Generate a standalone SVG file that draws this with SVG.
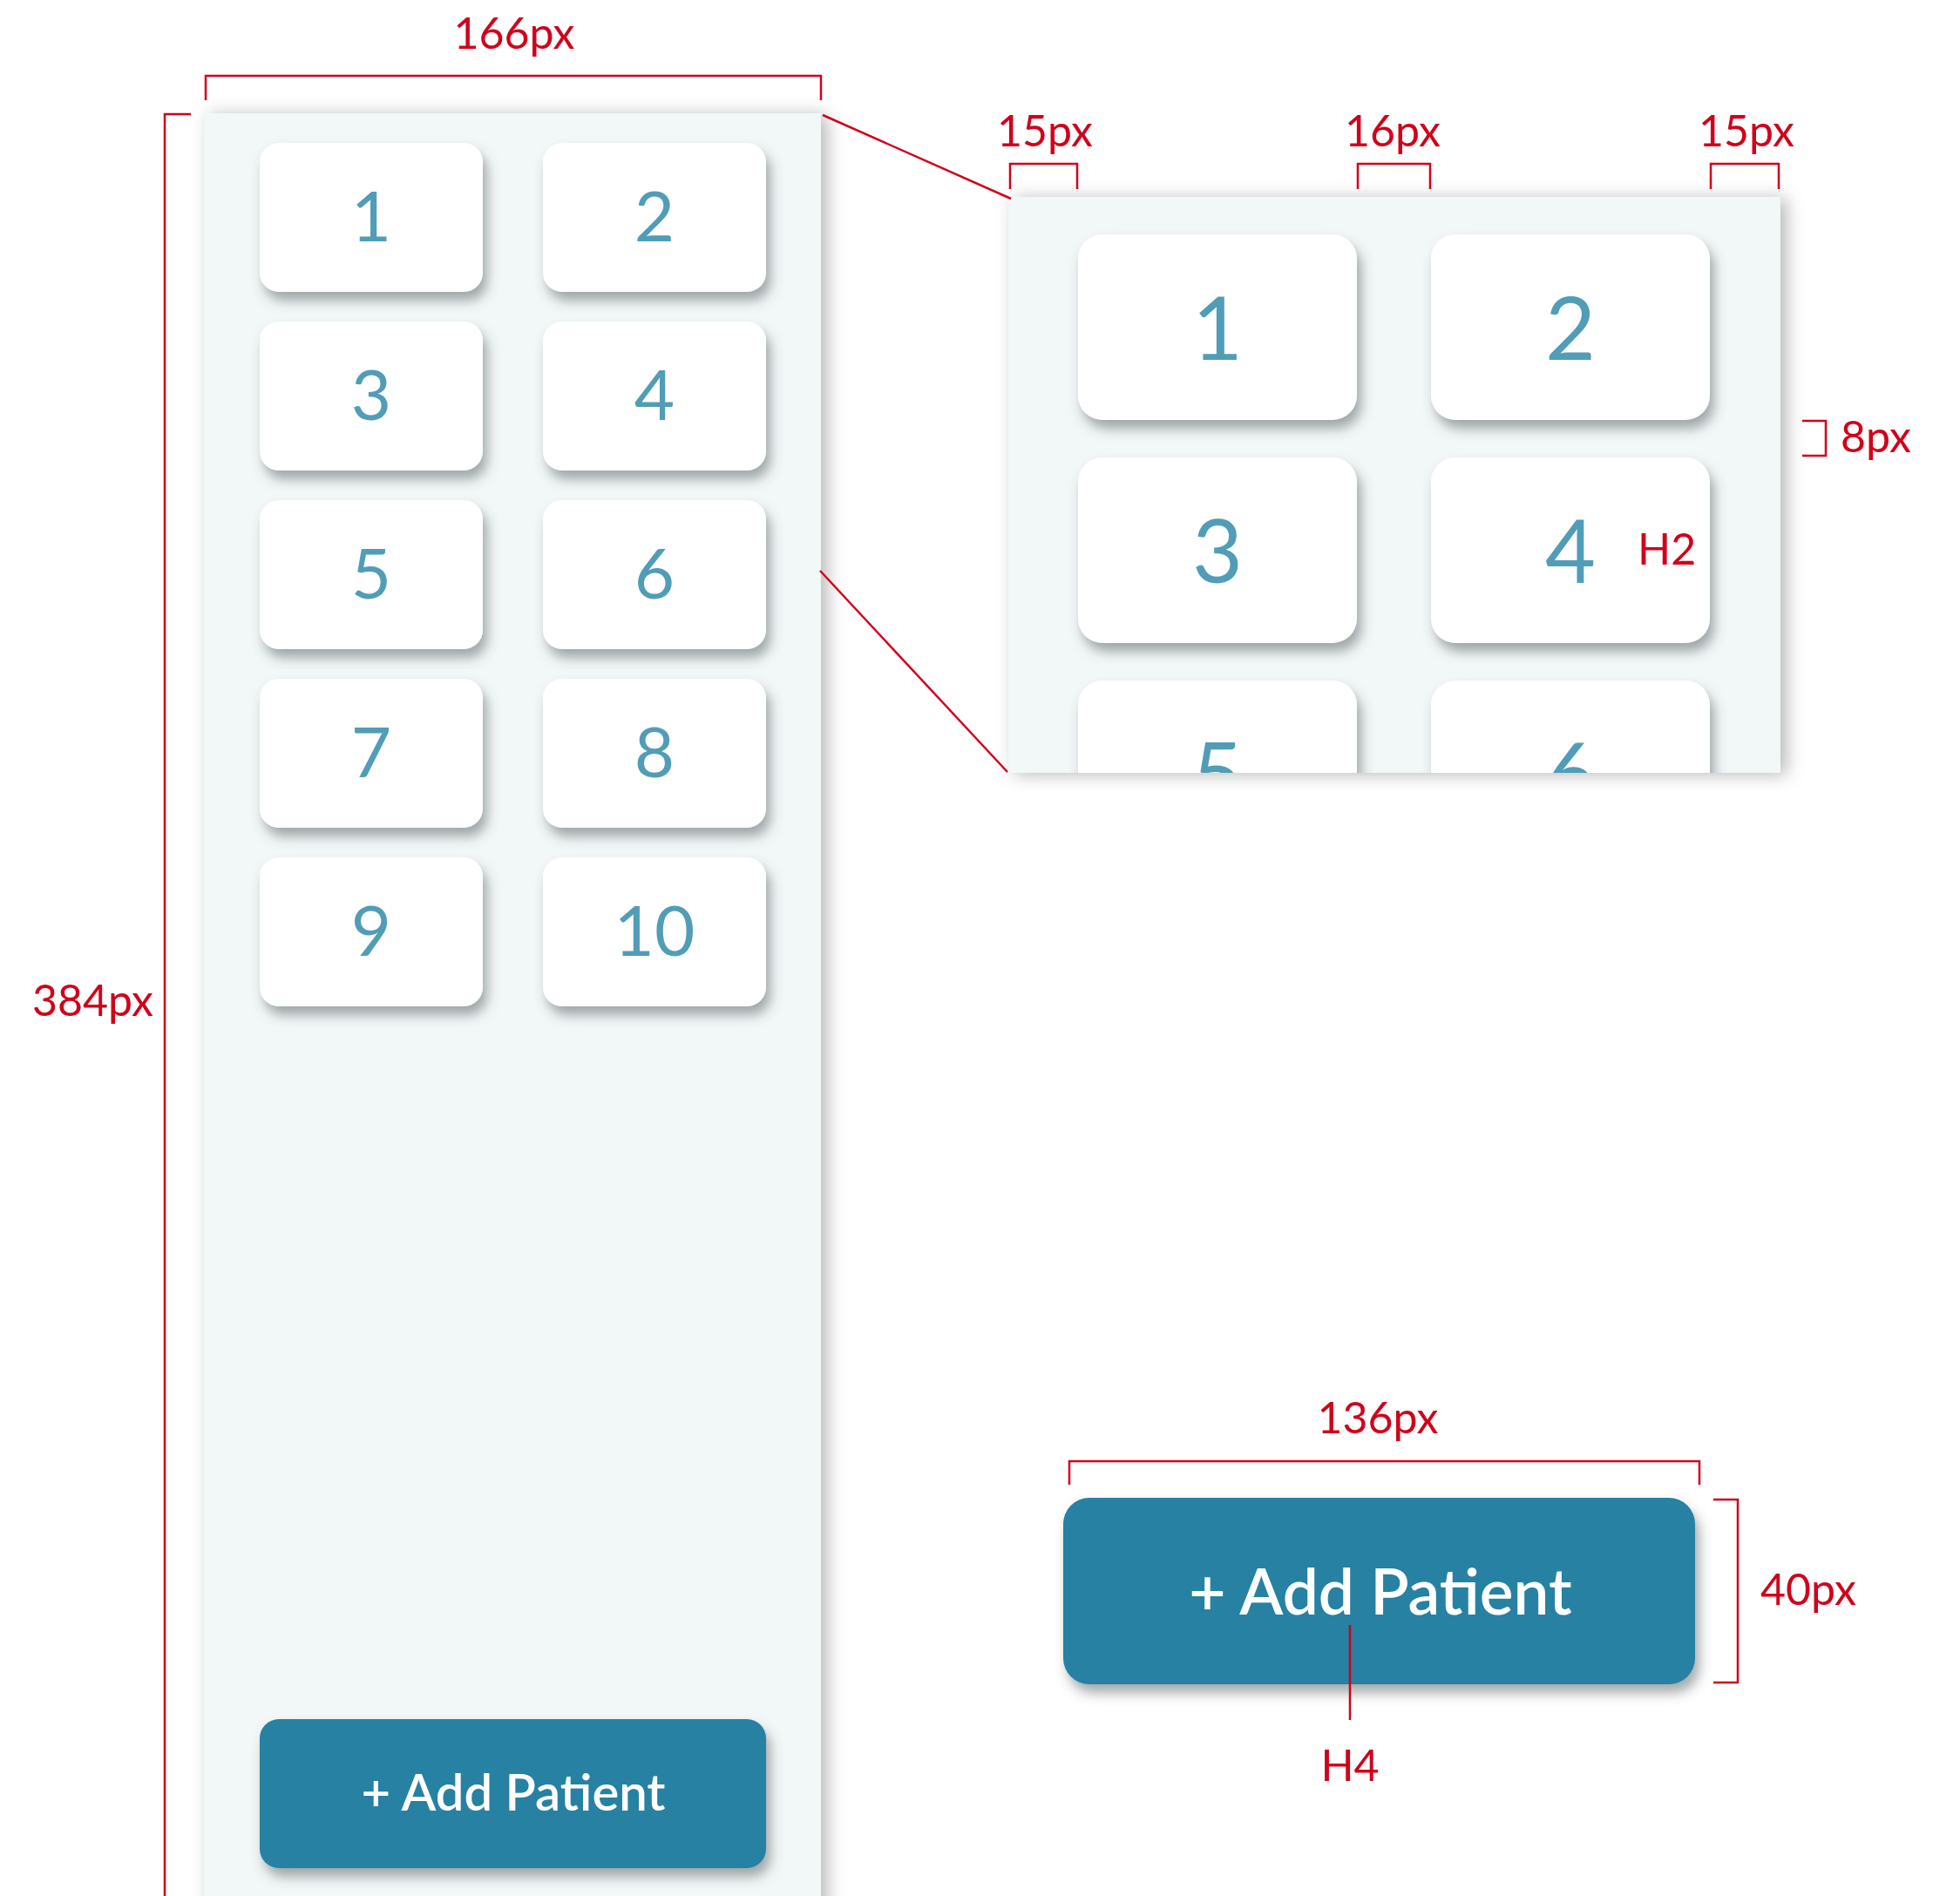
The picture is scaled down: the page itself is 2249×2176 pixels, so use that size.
<svg xmlns="http://www.w3.org/2000/svg" width="2249" height="2176" viewBox="0 0 2249 2176">
<defs>
<style>
.red{fill:#D0021B;font-family:Lato,'Liberation Sans',sans-serif;font-size:50px}
.dim{fill:none;stroke:#D0021B;stroke-width:2.5}
.panel{fill:#F2F7F7}
.tile{fill:#FFFFFF}
.num{fill:#519DB8;font-family:Lato,'Liberation Sans',sans-serif;text-anchor:middle}
.btn{fill:#2581A3}
.btntxt{fill:#FFFFFF;font-family:Lato,'Liberation Sans',sans-serif;font-weight:600;text-anchor:middle}
</style>
<filter id="tsh" x="-20%" y="-20%" width="150%" height="160%">
<feDropShadow dx="5" dy="10" stdDeviation="7" flood-color="#4a5458" flood-opacity="0.5"/>
</filter>
<filter id="psh" x="-10%" y="-10%" width="120%" height="120%">
<feDropShadow dx="7" dy="2" stdDeviation="10" flood-color="#000" flood-opacity="0.28"/>
</filter>
<clipPath id="zclip"><rect x="1157" y="226" width="886" height="661"/></clipPath>
</defs>

<g id="left-panel">
<rect class="panel" x="234" y="130" width="708" height="2100" filter="url(#psh)"/>
</g>

<g id="tiles-small">
<g id="tile-s1"><rect class="tile" x="298" y="164" width="256" height="171" rx="22" filter="url(#tsh)"/><text class="num" x="426" y="277" font-size="80">1</text></g>
<g id="tile-s2"><rect class="tile" x="623" y="164" width="256" height="171" rx="22" filter="url(#tsh)"/><text class="num" x="751" y="277" font-size="80">2</text></g>
<g id="tile-s3"><rect class="tile" x="298" y="369" width="256" height="171" rx="22" filter="url(#tsh)"/><text class="num" x="426" y="482" font-size="80">3</text></g>
<g id="tile-s4"><rect class="tile" x="623" y="369" width="256" height="171" rx="22" filter="url(#tsh)"/><text class="num" x="751" y="482" font-size="80">4</text></g>
<g id="tile-s5"><rect class="tile" x="298" y="574" width="256" height="171" rx="22" filter="url(#tsh)"/><text class="num" x="426" y="687" font-size="80">5</text></g>
<g id="tile-s6"><rect class="tile" x="623" y="574" width="256" height="171" rx="22" filter="url(#tsh)"/><text class="num" x="751" y="687" font-size="80">6</text></g>
<g id="tile-s7"><rect class="tile" x="298" y="779" width="256" height="171" rx="22" filter="url(#tsh)"/><text class="num" x="426" y="892" font-size="80">7</text></g>
<g id="tile-s8"><rect class="tile" x="623" y="779" width="256" height="171" rx="22" filter="url(#tsh)"/><text class="num" x="751" y="892" font-size="80">8</text></g>
<g id="tile-s9"><rect class="tile" x="298" y="984" width="256" height="171" rx="22" filter="url(#tsh)"/><text class="num" x="426" y="1097" font-size="80">9</text></g>
<g id="tile-s10"><rect class="tile" x="623" y="984" width="256" height="171" rx="22" filter="url(#tsh)"/><text class="num" x="751" y="1097" font-size="80">10</text></g>
</g>

<g id="btn-small">
<rect class="btn" x="298" y="1973" width="581" height="171" rx="22" filter="url(#tsh)"/>
<text class="btntxt" x="589" y="2078" font-size="58">+ Add Patient</text>
</g>

<g id="zoom-panel">
<rect class="panel" x="1157" y="226" width="886" height="661" filter="url(#psh)"/>
<g clip-path="url(#zclip)">
<g id="tile-b1"><rect class="tile" x="1237" y="269" width="320" height="213" rx="28" filter="url(#tsh)"/><text class="num" x="1397" y="413" font-size="100">1</text></g>
<g id="tile-b2"><rect class="tile" x="1642" y="269" width="320" height="213" rx="28" filter="url(#tsh)"/><text class="num" x="1802" y="413" font-size="100">2</text></g>
<g id="tile-b3"><rect class="tile" x="1237" y="525" width="320" height="213" rx="28" filter="url(#tsh)"/><text class="num" x="1397" y="669" font-size="100">3</text></g>
<g id="tile-b4"><rect class="tile" x="1642" y="525" width="320" height="213" rx="28" filter="url(#tsh)"/><text class="num" x="1802" y="669" font-size="100">4</text></g>
<g id="tile-b5"><rect class="tile" x="1237" y="781" width="320" height="213" rx="28" filter="url(#tsh)"/><text class="num" x="1397" y="925" font-size="100">5</text></g>
<g id="tile-b6"><rect class="tile" x="1642" y="781" width="320" height="213" rx="28" filter="url(#tsh)"/><text class="num" x="1802" y="925" font-size="100">6</text></g>
</g>
</g>

<g id="btn-large">
<rect class="btn" x="1220" y="1719" width="725" height="214" rx="30" filter="url(#tsh)"/>
<text class="btntxt" x="1584" y="1853" font-size="73">+ Add Patient</text>
</g>

<g id="connectors">
<line class="dim" x1="944" y1="132" x2="1160" y2="228"/>
<line class="dim" x1="941" y1="655" x2="1156" y2="886"/>
<path class="dim" d="M236 115 V87 H942 V115"/>
<path class="dim" d="M219 131 H189 V2176"/>
<path class="dim" d="M1159 217 V188 H1236 V217"/>
<path class="dim" d="M1558 217 V188 H1641 V217"/>
<path class="dim" d="M1963 217 V188 H2041 V217"/>
<path class="dim" d="M2068 483 H2095 V523 H2068"/>
<path class="dim" d="M1227 1704 V1677 H1950 V1704"/>
<path class="dim" d="M1966 1721 H1994 V1931 H1966"/>
<line class="dim" x1="1549" y1="1865" x2="1549" y2="1974"/>
</g>

<g id="labels">
<text class="red" x="590" y="56" font-size="52" text-anchor="middle">166px</text>
<text class="red" x="176" y="1166" font-size="52" text-anchor="end">384px</text>
<text class="red" x="1199" y="168" text-anchor="middle">15px</text>
<text class="red" x="1598" y="168" text-anchor="middle">16px</text>
<text class="red" x="2004" y="168" text-anchor="middle">15px</text>
<text class="red" x="2112" y="519">8px</text>
<text class="red" x="1879" y="648">H2</text>
<text class="red" x="1581" y="1645" text-anchor="middle">136px</text>
<text class="red" x="2020" y="1842">40px</text>
<text class="red" x="1549" y="2044" text-anchor="middle">H4</text>
</g>
</svg>
